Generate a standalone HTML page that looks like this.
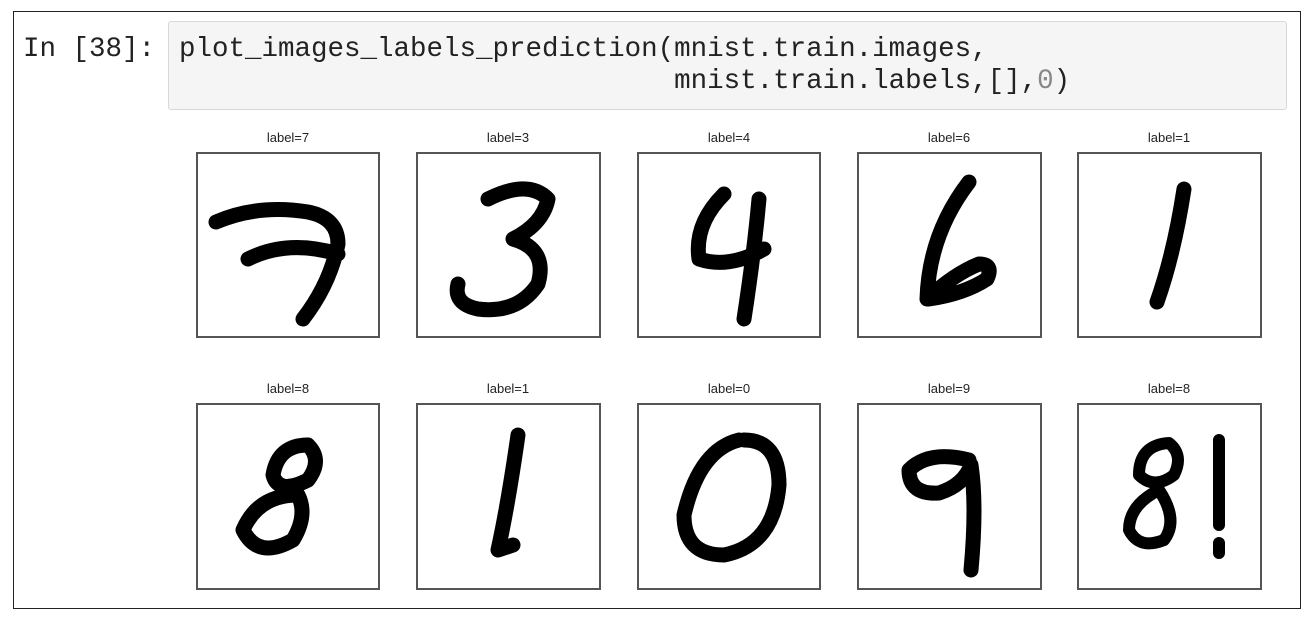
<!DOCTYPE html>
<html><head><style>
body{margin:0;width:1314px;height:624px;background:#fff;position:relative;overflow:hidden;font-family:"Liberation Sans",sans-serif}
.outer{position:absolute;left:13px;top:11px;width:1286px;height:596px;border:1px solid #222}
.code{position:absolute;left:168px;top:21px;width:1117px;height:87px;background:#f5f5f5;border:1px solid #d8d8d8;border-radius:3px}
.mono{position:absolute;font-family:"Liberation Mono",monospace;font-size:27.5px;color:#222;white-space:pre;line-height:32px}
.lbl{position:absolute;font-size:13px;color:#222;width:184px;text-align:center}
svg.b{position:absolute;border:2px solid #555;box-sizing:border-box;background:#fff}
svg path{fill:none;stroke:#000;stroke-width:15;stroke-linecap:round;stroke-linejoin:round}
</style></head><body>
<div class="outer"></div>
<div class="code"></div>
<div class="mono" style="left:23px;top:34px">In [38]:</div>
<div class="mono" style="left:179px;top:34px">plot_images_labels_prediction(mnist.train.images,
                              mnist.train.labels,[],<span style="color:#888">0</span>)</div>

<div class="lbl" style="left:196px;top:130px">label=7</div>
<div class="lbl" style="left:416px;top:130px">label=3</div>
<div class="lbl" style="left:637px;top:130px">label=4</div>
<div class="lbl" style="left:857px;top:130px">label=6</div>
<div class="lbl" style="left:1077px;top:130px">label=1</div>
<div class="lbl" style="left:196px;top:381px">label=8</div>
<div class="lbl" style="left:416px;top:381px">label=1</div>
<div class="lbl" style="left:637px;top:381px">label=0</div>
<div class="lbl" style="left:857px;top:381px">label=9</div>
<div class="lbl" style="left:1077px;top:381px">label=8</div>

<svg class="b" style="left:196px;top:152px" width="184" height="186"><path d="M18 68 Q60 50 110 58 Q140 64 140 90 Q132 130 105 165 M50 105 Q90 85 140 100"/></svg>
<svg class="b" style="left:416px;top:152px" width="185" height="186"><path d="M70 45 Q110 25 130 45 Q125 70 95 85 Q130 95 120 130 Q100 160 60 155 Q35 150 40 130"/></svg>
<svg class="b" style="left:637px;top:152px" width="184" height="186"><path d="M85 40 Q55 70 60 105 Q90 115 125 95 M120 45 Q115 100 105 165"/></svg>
<svg class="b" style="left:857px;top:152px" width="185" height="186"><path d="M110 28 Q70 80 68 145 Q95 120 120 110 Q135 110 128 125 Q105 140 70 145"/></svg>
<svg class="b" style="left:1077px;top:152px" width="185" height="186"><path d="M105 35 Q95 100 78 148"/></svg>

<svg class="b" style="left:196px;top:403px" width="184" height="187"><path d="M110 40 Q80 40 75 70 Q80 90 110 75 Q125 55 110 40 M100 90 Q60 90 45 125 Q60 155 95 135 Q110 110 100 90"/></svg>
<svg class="b" style="left:416px;top:403px" width="185" height="187"><path d="M100 30 Q90 100 80 145 L95 140"/></svg>
<svg class="b" style="left:637px;top:403px" width="184" height="187"><path d="M100 35 Q60 45 45 110 Q45 150 85 150 Q135 140 140 80 Q140 35 105 35"/></svg>
<svg class="b" style="left:857px;top:403px" width="185" height="187"><path d="M110 55 Q70 45 50 65 Q50 90 80 88 Q105 80 112 60 Q118 100 112 165"/></svg>
<svg class="b" style="left:1077px;top:403px" width="185" height="187"><path d="M90 38 Q60 40 60 70 Q75 85 95 70 Q105 50 90 38 M80 85 Q50 100 50 125 Q60 145 85 135 Q100 115 80 85 M140 35 L140 120 M140 138 L140 148" style="stroke-width:12"/></svg>
</body></html>
